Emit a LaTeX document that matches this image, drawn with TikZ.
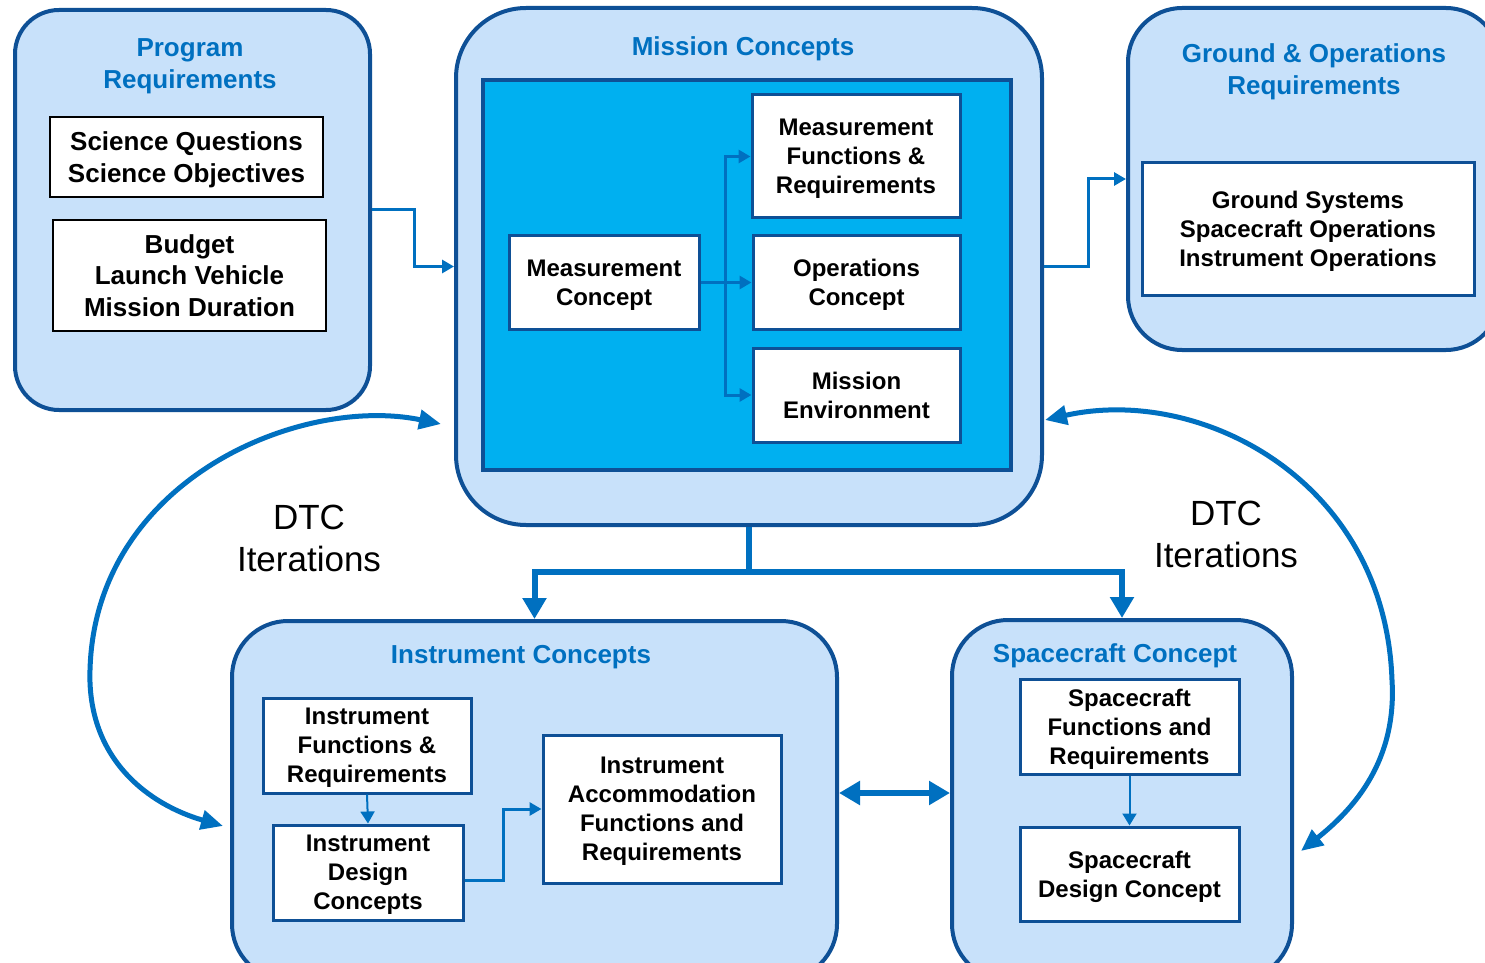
\documentclass[tikz,border=0pt]{standalone}
\usepackage{fontspec}
\setmainfont{Liberation Sans}
\usepackage{xcolor}
\usepackage{tikz}
\usetikzlibrary{shapes,arrows.meta,positioning}
\definecolor{edge}{RGB}{14, 80, 150}
\definecolor{panelfill}{RGB}{200, 225, 250}
\definecolor{core}{RGB}{0, 176, 240}
\definecolor{flow}{RGB}{0, 112, 192}
\tikzstyle{panel} = [rectangle, draw=edge, fill=panelfill, line width=2pt, inner sep=0pt]
\tikzstyle{corebox} = [rectangle, draw=edge, fill=core, line width=2pt, inner sep=0pt]
\tikzstyle{reqbox} = [rectangle, draw=black, fill=white, line width=0.8pt, align=center, inner sep=0pt, text depth=-1.8pt, font={\bfseries\fontsize{13}{16}\selectfont}]
\tikzstyle{itembox} = [rectangle, draw=edge, fill=white, line width=1.5pt, align=center, inner sep=0pt, text depth=-1.8pt, font={\bfseries\fontsize{12}{14.5}\selectfont}]
\tikzstyle{heading} = [text=flow, align=center, font={\bfseries\fontsize{13}{16}\selectfont}]
\tikzstyle{dtc} = [align=center, font={\fontsize{17.5}{21}\selectfont}]
\tikzstyle{line} = [draw=flow, line width=1.5pt, -{Triangle[length=6pt, width=6.5pt]}]
\tikzstyle{thinline} = [draw=flow, line width=1pt, -{Triangle[length=6pt, width=7pt]}]
\tikzstyle{bigline} = [draw=flow, line width=3pt, -{Triangle[length=10.5pt, width=11.5pt]}]
\tikzstyle{dtcarc} = [draw=flow, line width=2.5pt, {Triangle[length=11pt, width=9.5pt]}-{Triangle[length=11pt, width=9.5pt]}]

\begin{document}
\begin{tikzpicture}[x=0.5pt, y=-0.5pt]
    \clip (0,0) rectangle (1485,963);
    \fill [white] (0,0) rectangle (1485,963);

    % outer panels
    \node [panel, minimum width=177.5pt, minimum height=200pt, rounded corners=22pt] (prog) at (192.5,210) {};
    \node [panel, minimum width=293pt, minimum height=258.5pt, rounded corners=35pt] (mission) at (749,266.5) {};
    \node [panel, minimum width=186pt, minimum height=171pt, rounded corners=27pt] (ground) at (1314,179) {};
    \node [panel, minimum width=302.5pt, minimum height=179.5pt, rounded corners=28pt] (instr) at (534.5,800.5) {};
    \node [panel, minimum width=170pt, minimum height=180pt, rounded corners=28pt] (sc) at (1122,800) {};
    \node [corebox, minimum width=264pt, minimum height=195pt] (concept) at (747,275) {};

    % headings
    \node [heading] (progtitle) at (190,66) {Program\\Requirements};
    \node [heading] (missiontitle) at (743,49) {Mission Concepts};
    \node [heading] (groundtitle) at (1314,72) {Ground \& Operations\\Requirements};
    \node [heading] (instrtitle) at (521,657) {Instrument Concepts};
    \node [heading] (sctitle) at (1115,656) {Spacecraft Concept};

    % program requirements
    \node [reqbox, minimum width=136.5pt, minimum height=40pt] (science) at (186.5,157) {Science Questions\\Science Objectives};
    \node [reqbox, minimum width=136.5pt, minimum height=55.5pt, font={\bfseries\fontsize{13}{15.75}\selectfont}] (budget) at (189.5,275.5) {Budget\\Launch Vehicle\\Mission Duration};

    % mission concepts
    \node [itembox, minimum width=95pt, minimum height=46.5pt] (meas) at (604,282.5) {Measurement\\Concept};
    \node [itembox, minimum width=104pt, minimum height=61.5pt] (measfr) at (856,156.5) {Measurement\\Functions \&\\Requirements};
    \node [itembox, minimum width=103.5pt, minimum height=47pt] (ops) at (856.5,282.5) {Operations\\Concept};
    \node [itembox, minimum width=103.5pt, minimum height=47pt] (env) at (856.5,395) {Mission\\Environment};

    % ground
    \node [itembox, minimum width=166pt, minimum height=66pt] (gsys) at (1308,229) {Ground Systems\\Spacecraft Operations\\Instrument Operations};

    % instrument concepts
    \node [itembox, minimum width=104pt, minimum height=47.5pt] (instfr) at (367,745.5) {Instrument\\Functions \&\\Requirements};
    \node [itembox, minimum width=95pt, minimum height=47.5pt] (instdc) at (368,872.5) {Instrument\\Design\\Concepts};
    \node [itembox, minimum width=119pt, minimum height=74pt] (accom) at (662,809) {Instrument\\Accommodation\\Functions and\\Requirements};

    % spacecraft concept
    \node [itembox, minimum width=109.5pt, minimum height=47.5pt] (scfr) at (1129.5,726.5) {Spacecraft\\Functions and\\Requirements};
    \node [itembox, minimum width=109.5pt, minimum height=47pt] (scdc) at (1129.5,874) {Spacecraft\\Design Concept};

    % iteration labels
    \node [dtc] (dtcleft) at (309,538) {DTC\\Iterations};
    \node [dtc] (dtcright) at (1226,534) {DTC\\Iterations};

    % flows
    \path [line] (prog.east) -- ++(42,0) |- (mission.west);
    \path [line] (mission.east) -- ++(44,0) |- (ground.west);
    \coordinate (split) at (725,282.5);
    \path [line] (meas.east) -- (ops.west);
    \path [line] (split) |- (measfr.west);
    \path [line] (split) |- (env.west);

    \coordinate (fork) at (749,572);
    \path [bigline] (mission.south) -- (fork) -| (instr.north);
    \path [bigline] (fork) -| (sc.north);
    \path [bigline, {Triangle[length=10.5pt, width=11.5pt]}-{Triangle[length=10.5pt, width=11.5pt]}] ([yshift=3.75pt]instr.east) -- ([yshift=3.5pt]sc.west);

    \path [thinline] (instfr.south) -- (instdc.north);
    \path [line] ([yshift=-3.75pt]instdc.east) -- ++(39,0) |- (accom.west);
    \path [thinline] (scfr.south) -- (scdc.north);

    % DTC loops
    \coordinate (dtcLa) at (441,424);
    \coordinate (dtcLb) at (223,826);
    \coordinate (dtcRa) at (1045,420);
    \coordinate (dtcRb) at (1301,851);
    \path [dtcarc] (dtcLa) .. controls (300,395) and (95,480) .. (90,670) .. controls (87,760) and (150,805) .. (dtcLb);
    \path [dtcarc] (dtcRa) .. controls (1200,385) and (1385,480) .. (1392,680) .. controls (1397,760) and (1355,808) .. (dtcRb);
\end{tikzpicture}
\end{document}
